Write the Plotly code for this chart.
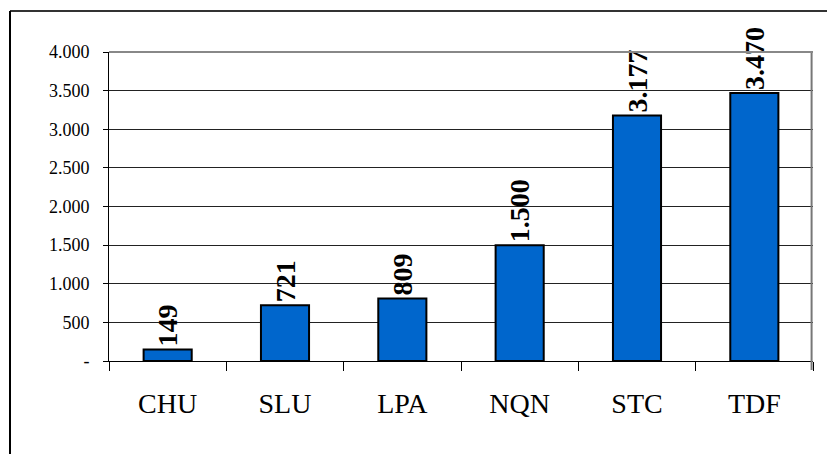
import plotly.graph_objects as go

# data
regions = ["CHU", "SLU", "LPA", "NQN", "STC", "TDF"]
values = [149, 721, 809, 1500, 3177, 3470]
y_ticks = [0, 500, 1000, 1500, 2000, 2500, 3000, 3500, 4000]


def fmt(v):
    # thousands with a dot, zero shown as a dash
    return "-" if v == 0 else f"{v:,}".replace(",", ".")


SERIF = "Liberation Serif"

fig = go.Figure(
    go.Bar(
        x=regions,
        y=values,
        width=0.41,
        marker=dict(color="#0066CC", line=dict(color="black", width=2)),
        text=[fmt(v) for v in values],
        textposition="outside",
        textangle=-90,
        constraintext="none",
        cliponaxis=False,
        textfont=dict(family=SERIF, size=28, color="black", weight="bold"),
    )
)

# outer chart frame (top and left edges visible) and grey right/top plot border
L, R, T, B = 109, 14, 52, 93
W, H = 827 - L - R, 454 - T - B
frame_x0 = (10 - L) / W
frame_y1 = 1 + (T - 11) / H
frame_y0 = -(B + 5) / H
frame_x1 = 1 + (R + 5) / W
fig.add_shape(type="line", xref="paper", yref="paper", x0=frame_x0, x1=frame_x1,
              y0=frame_y1, y1=frame_y1, line=dict(color="#333", width=2))
fig.add_shape(type="line", xref="paper", yref="paper", x0=frame_x0, x1=frame_x0,
              y0=frame_y0, y1=frame_y1, line=dict(color="black", width=2))
fig.add_shape(type="line", xref="paper", yref="paper", x0=0.998, x1=0.998, y0=-9 / H, y1=1,
              line=dict(color="#777", width=2))
fig.add_shape(type="line", xref="paper", yref="paper", x0=0, x1=1, y0=1, y1=1,
              line=dict(color="#888", width=2))

fig.update_layout(
    width=827,
    height=454,
    margin=dict(l=L, r=R, t=T, b=B, autoexpand=False),
    paper_bgcolor="white",
    plot_bgcolor="white",
    showlegend=False,
    font=dict(family=SERIF, color="black"),
)
fig.update_xaxes(
    showline=True,
    linecolor="black",
    linewidth=1,
    ticks="outside",
    tickson="boundaries",
    ticklen=9,
    tickcolor="black",
    tickfont=dict(family=SERIF, size=28, color="black"),
    ticklabelstandoff=17,
    showgrid=False,
)
fig.update_yaxes(
    range=[0, 4000],
    tickvals=y_ticks,
    ticktext=[fmt(v) for v in y_ticks],
    showline=True,
    linecolor="black",
    linewidth=1,
    ticks="outside",
    ticklen=5,
    tickcolor="black",
    tickfont=dict(family=SERIF, size=18, color="black"),
    ticklabelstandoff=10,
    showgrid=True,
    gridcolor="#222",
    gridwidth=1,
    zeroline=False,
)

fig.write_html(
    "out.html",
    config={"displayModeBar": False},
    post_script="document.body.style.margin='0';",
)
